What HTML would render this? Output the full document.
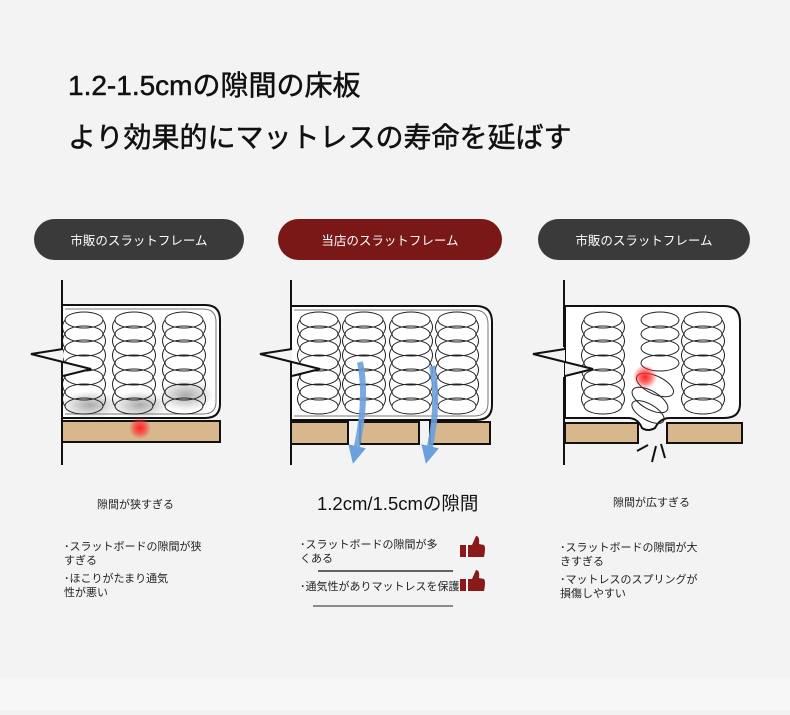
<!DOCTYPE html>
<html><head><meta charset="utf-8"><style>
html,body{margin:0;padding:0;background:#f2f2f2;}
body{width:790px;height:710px;overflow:hidden;font-family:"Liberation Sans","Noto Sans CJK JP",sans-serif;}
svg text{font-family:"Liberation Sans","Noto Sans CJK JP",sans-serif;}
</style></head><body>
<svg width="790" height="710" viewBox="0 0 790 710" xmlns="http://www.w3.org/2000/svg">
<defs>
<g id="col" fill="none" stroke="#222" stroke-width="1">
<ellipse cx="0" cy="320" rx="19" ry="8"/><ellipse cx="0" cy="334" rx="19" ry="8"/>
<ellipse cx="0" cy="348" rx="19" ry="8"/><ellipse cx="0" cy="363" rx="19" ry="8"/>
<ellipse cx="0" cy="377" rx="19" ry="8"/><ellipse cx="0" cy="392" rx="19" ry="8"/>
<ellipse cx="0" cy="406" rx="19" ry="8"/>
<path d="M-19,320 Q-24,327 -19,334 Q-24,341 -19,348 Q-24,355 -19,363 Q-24,370 -19,377 Q-24,384 -19,392 Q-24,399 -19,406"/>
<path d="M19,320 Q24,327 19,334 Q24,341 19,348 Q24,355 19,363 Q24,370 19,377 Q24,384 19,392 Q24,399 19,406"/>
</g>
<radialGradient id="red"><stop offset="0" stop-color="#f22" stop-opacity="1"/><stop offset="0.5" stop-color="#f33" stop-opacity="0.7"/><stop offset="1" stop-color="#f33" stop-opacity="0"/></radialGradient>
<radialGradient id="sh"><stop offset="0" stop-color="#888" stop-opacity="0.7"/><stop offset="1" stop-color="#888" stop-opacity="0"/></radialGradient>
<marker id="ah" markerWidth="3" markerHeight="3" refX="1.5" refY="1.5" orient="auto"><path d="M0,0 L3,1.5 L0,3 z" fill="#6aa0dc"/></marker>
</defs>
<rect x="0" y="0" width="790" height="678" fill="#f3f3f3"/>
<rect x="0" y="678" width="790" height="32" fill="#f7f7f7"/>
<text x="68" y="95" font-size="28" fill="#111" stroke="#111" stroke-width="0.5">1.2-1.5cmの隙間の床板</text>
<text x="68" y="147" font-size="28" fill="#111" stroke="#111" stroke-width="0.5">より効果的にマットレスの寿命を延ばす</text>

<rect x="34" y="219" width="210" height="41" rx="20.5" fill="#3a3a3a"/>
<text x="139" y="245" font-size="12.5" fill="#fff" text-anchor="middle">市販のスラットフレーム</text>
<rect x="278" y="219" width="224" height="41" rx="20.5" fill="#7a1717"/>
<text x="390" y="245" font-size="12.5" fill="#fff" text-anchor="middle">当店のスラットフレーム</text>
<rect x="538" y="219" width="212" height="41" rx="20.5" fill="#3a3a3a"/>
<text x="644" y="245" font-size="12.5" fill="#fff" text-anchor="middle">市販のスラットフレーム</text>

<!-- panel 1 -->
<g>
<path d="M62,305 H205 Q220,305 220,320 V404 Q220,418 205,418 H62 Z" fill="#fff" stroke="#111" stroke-width="2"/>
<path d="M65,309 H203 Q216,309 216,322 V402 Q216,414 203,414 H65" fill="none" stroke="#777" stroke-width="1"/>
<ellipse cx="90" cy="405" rx="30" ry="14" fill="url(#sh)"/>
<ellipse cx="140" cy="405" rx="30" ry="14" fill="url(#sh)"/>
<ellipse cx="186" cy="395" rx="28" ry="16" fill="url(#sh)"/>
<use href="#col" x="84"/><use href="#col" x="134"/><use href="#col" x="184"/>
<rect x="62" y="421" width="158" height="21" fill="#d7b78b" stroke="#111" stroke-width="2"/>
<circle cx="140" cy="428" r="11" fill="url(#red)"/>
<polygon points="63,349 31,354 91,369 63,376" fill="#f3f3f3"/>
<polyline points="63,349 31,354 91,369 63,376" fill="none" stroke="#111" stroke-width="2"/>
<line x1="62" y1="280" x2="62" y2="347" stroke="#111" stroke-width="2"/>
<line x1="62" y1="377" x2="62" y2="465" stroke="#111" stroke-width="2"/>
</g>

<!-- panel 2 -->
<g>
<path d="M291,306 H476 Q492,306 492,322 V405 Q492,420 476,420 H291 Z" fill="#fff" stroke="#111" stroke-width="2"/>
<path d="M294,310 H474 Q488,310 488,324 V403 Q488,416 474,416 H294" fill="none" stroke="#777" stroke-width="1"/>
<use href="#col" x="319"/><use href="#col" x="364"/><use href="#col" x="411"/><use href="#col" x="457"/>
<rect x="291" y="422" width="57" height="22" fill="#d7b78b" stroke="#111" stroke-width="2"/>
<rect x="360" y="422" width="59" height="22" fill="#d7b78b" stroke="#111" stroke-width="2"/>
<rect x="430" y="422" width="60" height="22" fill="#d7b78b" stroke="#111" stroke-width="2"/>
<path d="M360,362 Q368,400 355,455" fill="none" stroke="#6aa0dc" stroke-width="6" stroke-opacity="0.9" marker-end="url(#ah)"/>
<path d="M432,366 Q440,405 428,455" fill="none" stroke="#6aa0dc" stroke-width="6" stroke-opacity="0.9" marker-end="url(#ah)"/>
<polygon points="292,349 260,354 320,369 292,376" fill="#f3f3f3"/>
<polyline points="292,349 260,354 320,369 292,376" fill="none" stroke="#111" stroke-width="2"/>
<line x1="291" y1="280" x2="291" y2="347" stroke="#111" stroke-width="2"/>
<line x1="291" y1="377" x2="291" y2="465" stroke="#111" stroke-width="2"/>
</g>

<!-- panel 3 -->
<g>
<path d="M565,306 H724 Q740,306 740,322 V404 Q740,418 724,418 H670 Q660,418 655,428 Q648,432 642,428 Q638,418 628,418 H565 Z" fill="#fff" stroke="#111" stroke-width="2"/>
<use href="#col" x="603"/><use href="#col" x="703"/>
<g fill="none" stroke="#222" stroke-width="1">
<ellipse cx="660" cy="320" rx="19" ry="8"/><ellipse cx="660" cy="334" rx="19" ry="8"/>
<ellipse cx="660" cy="348" rx="19" ry="8"/><ellipse cx="660" cy="363" rx="19" ry="8"/>
<ellipse cx="655" cy="385" rx="20" ry="9" transform="rotate(25 655 385)"/>
<ellipse cx="650" cy="400" rx="20" ry="9" transform="rotate(30 650 400)"/>
<ellipse cx="648" cy="412" rx="18" ry="8" transform="rotate(30 648 412)"/>
</g>
<circle cx="645" cy="377" r="12" fill="url(#red)"/>
<rect x="565" y="423" width="73" height="20" fill="#d7b78b" stroke="#111" stroke-width="2"/>
<rect x="667" y="423" width="75" height="20" fill="#d7b78b" stroke="#111" stroke-width="2"/>
<g stroke="#111" stroke-width="2"><line x1="637" y1="451" x2="648" y2="445"/><line x1="652" y1="462" x2="656" y2="446"/><line x1="665" y1="458" x2="661" y2="444"/></g>
<polygon points="565,349 533,354 593,369 565,376" fill="#f3f3f3"/>
<polyline points="565,349 533,354 593,369 565,376" fill="none" stroke="#111" stroke-width="2"/>
<line x1="564" y1="280" x2="564" y2="347" stroke="#111" stroke-width="2"/>
<line x1="564" y1="377" x2="564" y2="465" stroke="#111" stroke-width="2"/>
</g>

<!-- text -->
<text x="97" y="508" font-size="11" fill="#222">隙間が狭すぎる</text>
<text x="64" y="550" font-size="11" fill="#222">･スラットボードの隙間が狭</text>
<text x="64" y="564" font-size="11" fill="#222">すぎる</text>
<text x="64" y="582" font-size="11" fill="#222">･ほこりがたまり通気</text>
<text x="64" y="596" font-size="11" fill="#222">性が悪い</text>

<text x="317" y="510" font-size="18.5" fill="#111">1.2cm/1.5cmの隙間</text>
<text x="300" y="548" font-size="11" fill="#222">･スラットボードの隙間が多</text>
<text x="300" y="562" font-size="11" fill="#222">くある</text>
<line x1="318" y1="571" x2="453" y2="571" stroke="#333" stroke-width="1.5"/>
<text x="300" y="590" font-size="11" fill="#222">･通気性がありマットレスを保護</text>
<line x1="313" y1="606" x2="453" y2="606" stroke="#222" stroke-width="1"/>
<g fill="#8a1a1a">
<rect x="460" y="545" width="6" height="12"/><path d="M468,545 L472,545 L476,536 Q480,536 479,544 L484,545 Q486,547 484,557 L468,557 Z"/>
<rect x="460" y="579" width="6" height="12"/><path d="M468,579 L472,579 L476,570 Q480,570 479,578 L484,579 Q486,581 484,591 L468,591 Z"/>
</g>

<text x="613" y="506" font-size="11" fill="#222">隙間が広すぎる</text>
<text x="560" y="551" font-size="11" fill="#222">･スラットボードの隙間が大</text>
<text x="560" y="565" font-size="11" fill="#222">きすぎる</text>
<text x="560" y="583" font-size="11" fill="#222">･マットレスのスプリングが</text>
<text x="560" y="597" font-size="11" fill="#222">損傷しやすい</text>
</svg>
</body></html>
